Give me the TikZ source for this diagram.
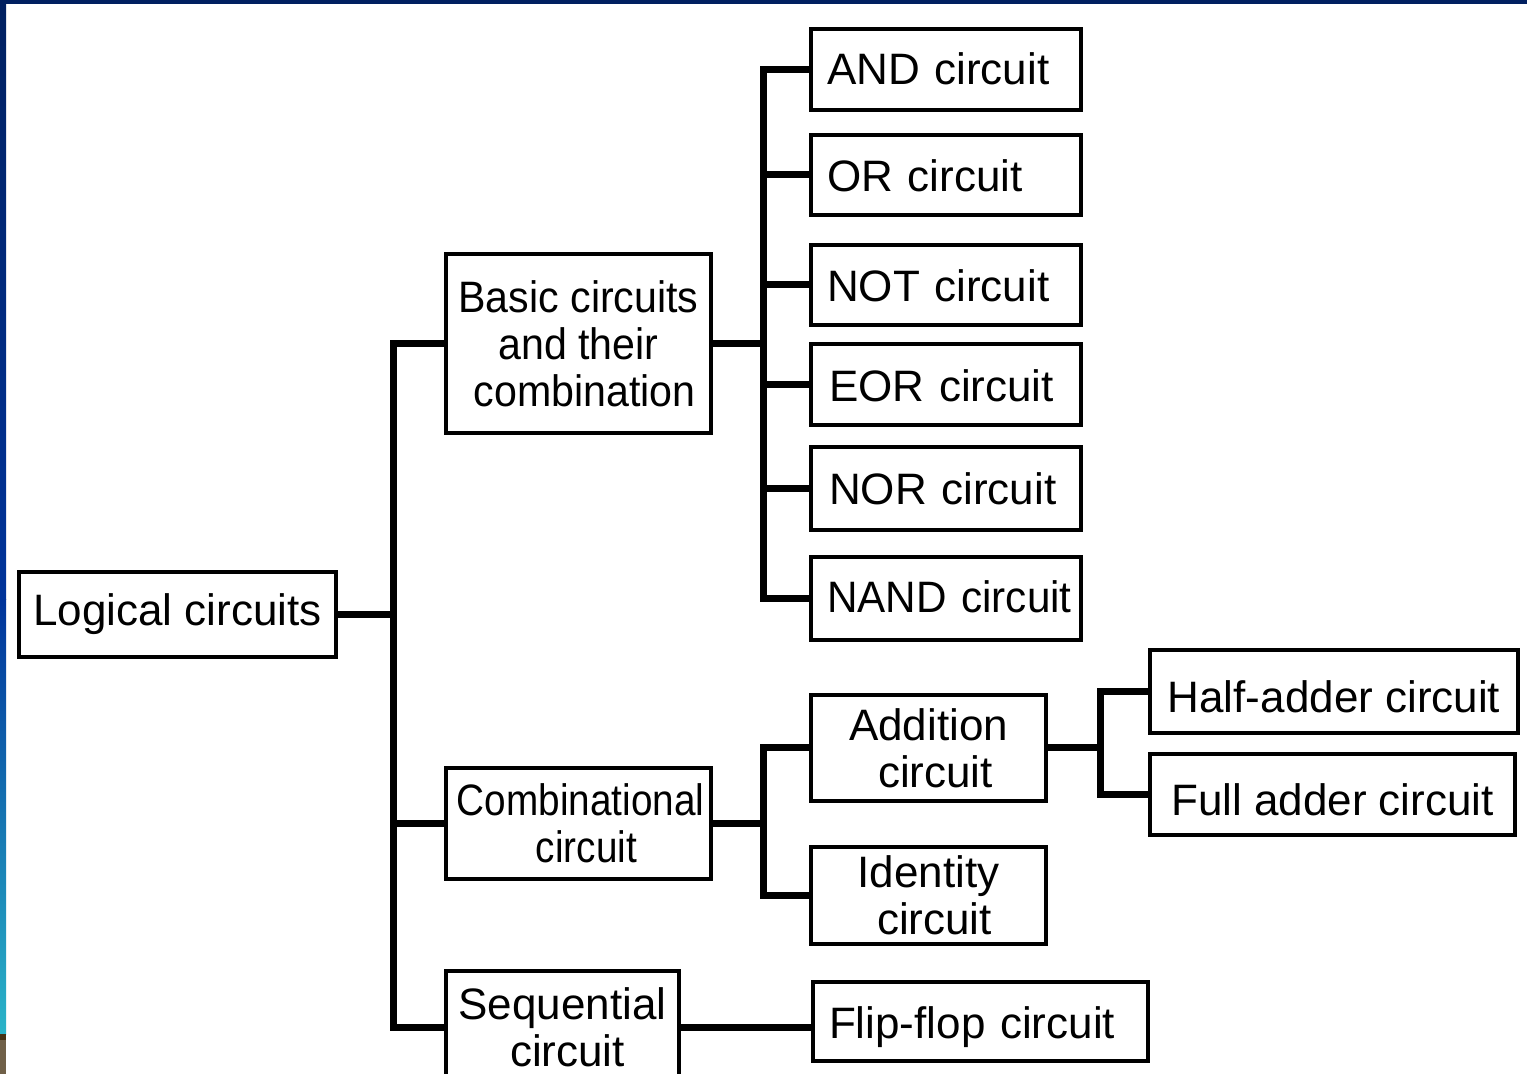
\documentclass[tikz,border=0pt]{standalone}
\usepackage{fontspec}
\setmainfont{Liberation Sans}
\newfontfamily\condA[FakeStretch=0.935]{Liberation Sans}
\newfontfamily\condB[FakeStretch=0.88]{Liberation Sans}
\newfontfamily\condC[FakeStretch=0.96]{Liberation Sans}
\definecolor{navy}{RGB}{0,32,96}
\definecolor{midblue}{RGB}{0,52,155}
\definecolor{tealb}{RGB}{42,180,200}
\definecolor{brownb}{RGB}{112,96,72}
\definecolor{darkbrown}{RGB}{70,50,20}
\begin{document}
\begin{tikzpicture}[x=0.5pt,y=-0.5pt,
  box/.style={draw, line width=2pt, inner sep=0pt, font=\fontsize{22}{23.5}\selectfont, align=center},
  sbox/.style={box, text depth=0pt},
  lbox/.style={box, align=left, inner xsep=8pt, inner ysep=0pt, text depth=0pt},
  conn/.style={line width=3.5pt}]
% background and frame
\fill[white] (0,0) rectangle (1527,1074);
\useasboundingbox (0,0) rectangle (1527,1074);
\fill[navy] (0,0) rectangle (1527,4);
\shade[top color=navy, bottom color=midblue] (0,0) rectangle (6,600);
\shade[top color=midblue, bottom color=tealb] (0,600) rectangle (6,1034);
\fill[brownb] (0,1034) rectangle (6,1074);
\fill[darkbrown] (0,1034) rectangle (6,1040);

% trunk coordinates
\coordinate (t1) at (393,0);
\coordinate (t2) at (763,0);
\coordinate (t3) at (1100,0);

% level 0
\node[sbox, minimum width=158.5pt, minimum height=42.5pt, text height=11pt] (logical) at (177.5,615) {Logical circuits};

% level 1
\node[box, minimum width=132.5pt, minimum height=89.5pt] (basic) at (578.5,343.5)
  {\condA Basic circuits\\\condA and their\\\hspace*{6pt}\condA combination};
\node[box, minimum width=132.5pt, minimum height=55.5pt] (comb) at (578.5,823.5)
  {\hspace*{2pt}\condB Combinational\\\hspace*{8pt}\condB circuit};
\node[box, minimum width=116.5pt, minimum height=56pt] (seq) at (562.5,1027)
  {Sequential\\\hspace*{5pt}circuit};

% level 2: basic circuits
\node[lbox, text width=119pt, minimum height=40.5pt, text height=15.5pt] (and) at (946,69.5) {AND circuit};
\node[lbox, text width=119pt, minimum height=40pt, text height=17pt] (or) at (946,175) {OR circuit};
\node[lbox, text width=119pt, minimum height=40pt, text height=17pt] (not) at (946,285) {NOT circuit};
\node[lbox, text width=119pt, minimum height=40.5pt, text height=17.5pt] (eor) at (946,384.5) {\hspace*{1pt}EOR circuit};
\node[lbox, text width=119pt, minimum height=41.5pt, text height=16.5pt] (nor) at (946,488.5) {\hspace*{1pt}NOR circuit};
\node[lbox, text width=119pt, minimum height=41.5pt, text height=14.5pt] (nand) at (946,598.5) {\mbox{\condC NAND circuit}};

% level 2: combinational
\node[box, minimum width=117.5pt, minimum height=53pt] (addition) at (928.5,748) {Addition\\\hspace*{7pt}circuit};
\node[box, minimum width=117.5pt, minimum height=48.5pt] (identity) at (928.5,895.5) {Identity\\\hspace*{6pt}circuit};

% level 3
\node[sbox, minimum width=184pt, minimum height=41.5pt, text height=21.5pt] (half) at (1334,691.5) {Half-adder circuit};
\node[sbox, minimum width=182.5pt, minimum height=40.5pt, text height=20.5pt] (full) at (1332.5,794.5) {Full adder circuit};

% sequential child
\node[lbox, text width=151.5pt, minimum height=39.5pt, text height=16.5pt] (flip) at (980.5,1021.5) {\mbox{Flip-flop circuit}};

% connectors: level 0 -> 1
\draw[conn] (basic.west) -- (t1 |- basic.west) -- (t1 |- seq.west) -- (seq.west);
\draw[conn] (logical.east) -- (t1 |- logical.east);
\draw[conn] (comb.west) -- (t1 |- comb.west);

% basic -> gates
\draw[conn] (and.west) -- (t2 |- and.west) -- (t2 |- nand.west) -- (nand.west);
\draw[conn] (basic.east) -- (t2 |- basic.east);
\draw[conn] (or.west) -- (t2 |- or.west);
\draw[conn] (not.west) -- (t2 |- not.west);
\draw[conn] (eor.west) -- (t2 |- eor.west);
\draw[conn] (nor.west) -- (t2 |- nor.west);

% combinational -> children
\draw[conn] (addition.west) -- (t2 |- addition.west) -- (t2 |- identity.west) -- (identity.west);
\draw[conn] (comb.east) -- (t2 |- comb.east);

% addition -> adders
\draw[conn] (half.west) -- (t3 |- half.west) -- (t3 |- full.west) -- (full.west);
\draw[conn] (addition.east) -- (t3 |- addition.east);

% sequential -> flip-flop
\draw[conn] (seq.east) -- (seq.east -| flip.west);
\end{tikzpicture}
\end{document}
